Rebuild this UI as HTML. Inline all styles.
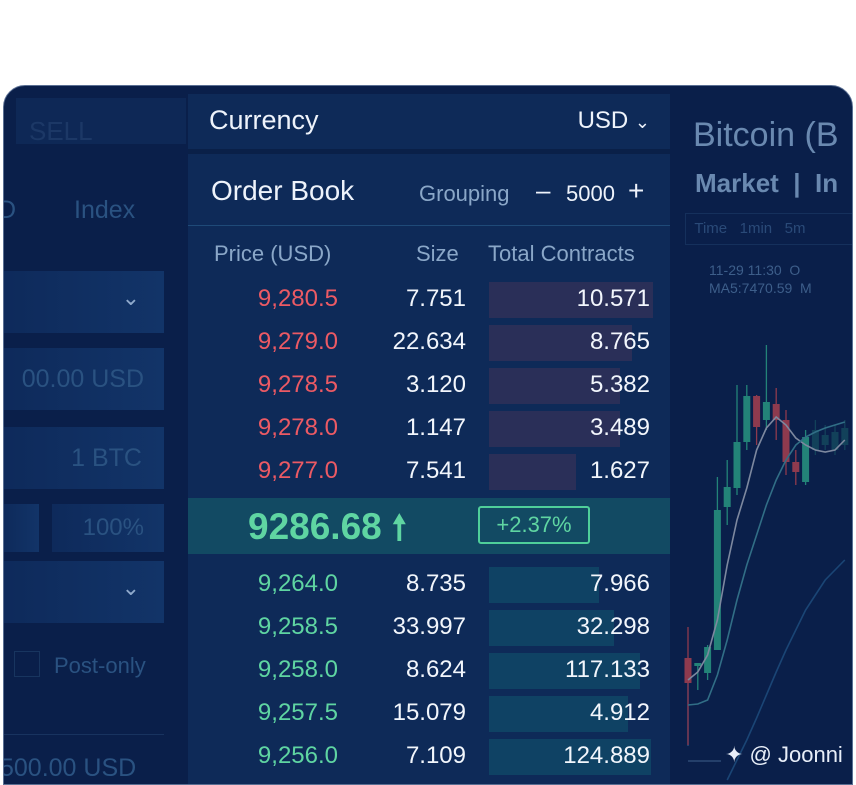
<!DOCTYPE html>
<html><head><meta charset="utf-8">
<style>
html,body{margin:0;padding:0;background:#fff;}
body{width:856px;height:780px;position:relative;overflow:hidden;font-family:"Liberation Sans",sans-serif;}
.abs{position:absolute;}
#frame{left:3px;top:85px;width:850px;height:700px;border-radius:22px 22px 0 0;background:#0a1f4a;border:1px solid #5a6f93;box-sizing:border-box;overflow:hidden;}
.dim{color:#2a5281;}
.lbox{background:linear-gradient(90deg,#0e2a5b,#123468);}
#center{left:184px;top:8px;width:482px;height:700px;background:#0e2a58;}
.row{position:absolute;left:0;width:482px;height:43px;font-size:24px;}
.row span{position:absolute;top:6px;}
.bar{position:absolute;left:301px;top:3px;height:36px;}
</style></head><body>
<div id="frame" class="abs">
  <div class="abs" style="left:0;top:0;width:184px;height:700px;">
    <div class="abs" style="left:12px;top:12px;width:170px;height:46px;background:#0e2856;"></div>
    <div class="abs" style="left:25px;top:30px;font-size:26px;color:#1c3866;">SELL</div>
    <div class="abs dim" style="left:70px;top:110px;font-size:25px;">Index</div>
    <div class="abs dim" style="left:-6px;top:110px;font-size:25px;">D</div>
    <div class="abs lbox" style="left:0;top:185px;width:160px;height:62px;"><span class="abs" style="right:24px;top:14px;color:#8fa9cb;font-size:22px;">&#8964;</span></div>
    <div class="abs lbox dim" style="left:0;top:262px;width:160px;height:62px;font-size:25px;line-height:62px;text-align:right;padding-right:20px;box-sizing:border-box;">00.00 USD</div>
    <div class="abs lbox dim" style="left:0;top:341px;width:160px;height:62px;font-size:25px;line-height:62px;text-align:right;padding-right:22px;box-sizing:border-box;">1 BTC</div>
    <div class="abs lbox" style="left:0;top:418px;width:35px;height:48px;"></div>
    <div class="abs lbox dim" style="left:48px;top:418px;width:112px;height:48px;font-size:24px;line-height:48px;text-align:right;padding-right:20px;box-sizing:border-box;">100%</div>
    <div class="abs lbox" style="left:0;top:475px;width:160px;height:62px;"><span class="abs" style="right:24px;top:14px;color:#8fa9cb;font-size:22px;">&#8964;</span></div>
    <div class="abs" style="left:10px;top:565px;width:24px;height:24px;border:1px solid #18355f;"></div>
    <div class="abs dim" style="left:50px;top:567px;font-size:22px;">Post-only</div>
    <div class="abs" style="left:0;top:648px;width:160px;height:1px;background:#18335f;"></div>
    <div class="abs dim" style="left:-4px;top:668px;font-size:25px;">500.00 USD</div>
  </div>

  <div id="center" class="abs">
    <div class="abs" style="left:0;top:0;width:482px;height:55px;border-bottom:5px solid #0a2048;"></div>
    <div class="abs" style="left:21px;top:11px;font-size:27px;color:#eef3fb;">Currency</div>
    <div class="abs" style="right:20px;top:13px;font-size:24px;color:#eef3fb;">USD <span style="font-size:18px;">&#8964;</span></div>
    <div class="abs" style="left:23px;top:81px;font-size:28px;color:#eef3fb;">Order Book</div>
    <div class="abs" style="left:231px;top:87px;font-size:22px;color:#8aa7c8;">Grouping</div>
    <div class="abs" style="left:348px;top:81px;font-size:26px;color:#eef3fb;">&#8211;</div>
    <div class="abs" style="left:378px;top:87px;font-size:22px;color:#eef3fb;">5000</div>
    <div class="abs" style="left:440px;top:81px;font-size:28px;color:#eef3fb;">+</div>
    <div class="abs" style="left:0;top:131px;width:482px;height:1px;background:#1f4a78;"></div>
    <div class="abs" style="left:26px;top:147px;font-size:22px;color:#8aa7c8;">Price (USD)</div>
    <div class="abs" style="left:228px;top:147px;font-size:22px;color:#8aa7c8;">Size</div>
    <div class="abs" style="left:300px;top:147px;font-size:22px;color:#8aa7c8;">Total Contracts</div>
    <div id="asks"></div>
    <div class="abs" style="left:0;top:404px;width:482px;height:56px;background:#124a63;"></div>
    <div class="abs" style="left:60px;top:410px;font-size:37px;font-weight:bold;color:#5fd5a2;">9286.68 <span style="font-size:34px;">&#129045;</span></div>
    <div class="abs" style="left:290px;top:412px;width:112px;height:38px;border:2px solid #4fcf9a;border-radius:3px;box-sizing:border-box;font-size:22px;color:#5fd5a2;text-align:center;line-height:34px;">+2.37%</div>
    <div id="bids"></div>
  </div>

  <div class="abs" style="left:669px;top:0;width:181px;height:700px;">
    <div class="abs" style="left:20px;top:30px;font-size:34px;color:#6a89b0;white-space:nowrap;">Bitcoin (B</div>
    <div class="abs" style="left:22px;top:82px;font-size:26px;font-weight:bold;color:#6a89b0;white-space:nowrap;">Market &nbsp;| &nbsp;In</div>
    <div class="abs" style="left:12px;top:127px;width:180px;height:30px;border:1px solid #15305c;font-size:15px;color:#2a4a78;line-height:30px;white-space:nowrap;">&nbsp;&nbsp;Time &nbsp;&nbsp;1min &nbsp;&nbsp;5m</div>
    <div class="abs" style="left:36px;top:175px;font-size:14px;color:#3d5e8a;line-height:18px;white-space:nowrap;">11-29 11:30 &nbsp;O<br>MA5:7470.59 &nbsp;M</div>
    <svg class="abs" id="candles" style="left:0;top:0;opacity:0.8;" width="181" height="700"></svg>
    <div class="abs" style="left:52px;top:656px;font-size:22px;color:#e8eef8;">&#10022; @ Joonni</div>
  </div>
</div>
<script>
const askPrices=["9,280.5","9,279.0","9,278.5","9,278.0","9,277.0"];
const askSizes=["7.751","22.634","3.120","1.147","7.541"];
const askTotals=["10.571","8.765","5.382","3.489","1.627"];
const askBar=[1.0,0.87,0.80,0.80,0.53];
const bidPrices=["9,264.0","9,258.5","9,258.0","9,257.5","9,256.0"];
const bidSizes=["8.735","33.997","8.624","15.079","7.109"];
const bidTotals=["7.966","32.298","117.133","4.912","124.889"];
const bidBar=[0.67,0.76,0.92,0.85,0.99];
const candleO=[92,84,77,100,243,262,308,354,330,346,330,288,268,300,305,300,305];
const candleC=[67,87,103,240,263,308,354,323,348,330,288,278,313,320,315,318,322];
const candleH=[123,87,105,273,290,365,365,355,405,362,340,300,320,330,325,325,330];
const candleL=[5,60,70,100,225,255,300,305,320,310,275,265,265,295,300,295,300];
const maFast=[70,78,95,130,185,230,262,300,322,333,325,312,305,300,298,300,310];
const maMid=[45,46,50,75,110,150,185,215,245,270,290,305,313,318,322,325,328];
const maSlow=[null,null,null,null,-30,-10,10,32,55,78,100,120,140,155,170,180,190];
const BARMAX=164;
function rows(id,top,pr,sz,tt,bw,pc,bc,nm){
  const c=document.getElementById(id);
  pr.forEach((p,i)=>{
    const r=document.createElement('div');r.className='row';r.style.top=(top+i*43)+'px';
    
    
    r.innerHTML='<div class="bar" style="width:'+(bw[i]*BARMAX)+'px;background:'+bc+'"></div>'+
      '<span style="right:332px;color:'+pc+'">'+p+'</span>'+
      '<span style="right:204px;color:#f2f6fc">'+sz[i]+'</span>'+
      '<span style="right:20px;color:#f2f6fc">'+tt[i]+'</span>';
    c.appendChild(r);
  });
}
rows('asks',185,askPrices,askSizes,askTotals,askBar,'#ec5a64','#2a2f58','ask');
rows('bids',470,bidPrices,bidSizes,bidTotals,bidBar,'#5fd5a2','#0f4264','bid');
const svg=document.getElementById('candles');
const NS='http://www.w3.org/2000/svg';
const yS=v=>664-v, xS=i=>15+i*9.8;
function ln(x1,y1,x2,y2,col,name){
  const l=document.createElementNS(NS,'line');
  
  
  l.setAttribute('x1',x1);l.setAttribute('x2',x2);l.setAttribute('y1',y1);l.setAttribute('y2',y2);l.setAttribute('stroke',col);l.setAttribute('stroke-width','1.3');
  svg.appendChild(l);
}
ln(15,575,15,660,'#3f5f8a','y-axis-line');
ln(15,675,48,675,'#3f5f8a','x-axis-line');
candleO.forEach((o,i)=>{
  const c=candleC[i],up=c>=o,col=up?'#2a9c84':'#b0414f';
  const g=document.createElementNS(NS,'g');
  
  
  if(i>12) g.setAttribute('opacity','0.35');
  const l=document.createElementNS(NS,'line');
  l.setAttribute('x1',xS(i));l.setAttribute('x2',xS(i));l.setAttribute('y1',yS(candleH[i]));l.setAttribute('y2',yS(candleL[i]));l.setAttribute('stroke',col);l.setAttribute('stroke-width','1.3');
  g.appendChild(l);
  const r=document.createElementNS(NS,'rect');
  r.setAttribute('x',xS(i)-3.5);r.setAttribute('width',7);r.setAttribute('y',yS(Math.max(o,c)));r.setAttribute('height',Math.max(3,Math.abs(c-o)));r.setAttribute('fill',col);
  g.appendChild(r);
  svg.appendChild(g);
});
function poly(arr,col,name){
  const p=document.createElementNS(NS,'polyline');
  
  
  const pts=[];arr.forEach((v,i)=>{if(v!==null)pts.push(xS(i)+','+yS(v));});
  p.setAttribute('points',pts.join(' '));p.setAttribute('fill','none');p.setAttribute('stroke',col);p.setAttribute('stroke-width','1.6');
  svg.appendChild(p);
}
poly(maFast,'#9aa3b5','ma-fast-line');
poly(maMid,'#3b8296','ma-mid-line');
poly(maSlow,'#1f4f80','ma-slow-line');
</script>
</body></html>
